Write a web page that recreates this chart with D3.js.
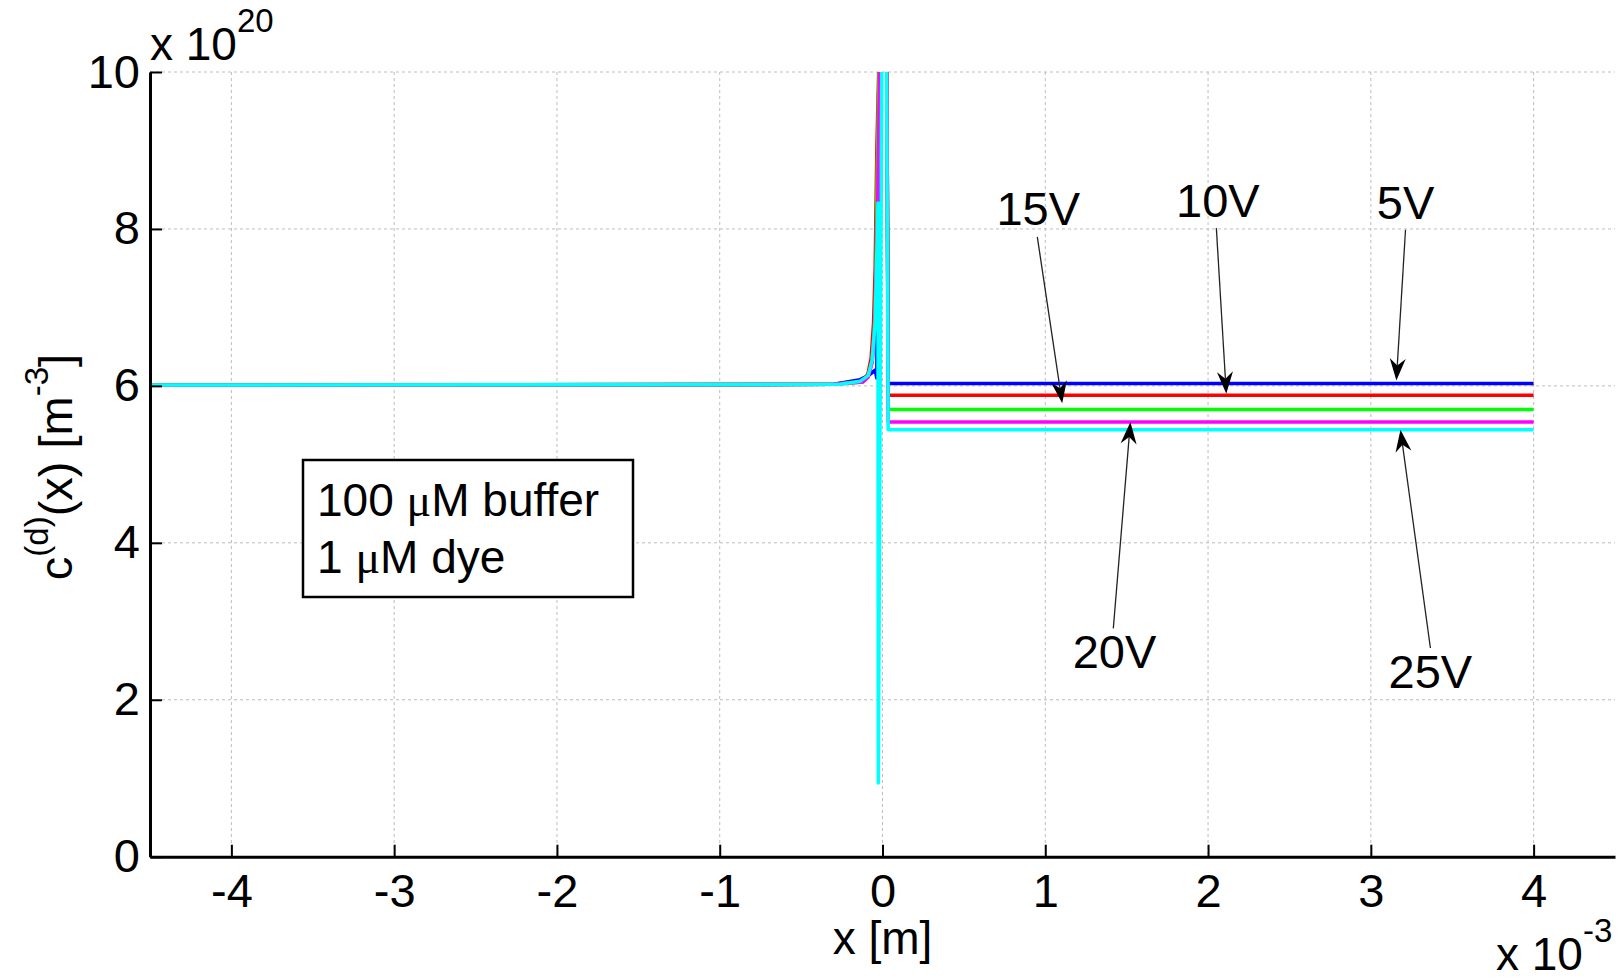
<!DOCTYPE html>
<html>
<head>
<meta charset="utf-8">
<script src="https://cdn.jsdelivr.net/npm/d3@7"></script>
<style>
  body { margin: 0; background: #fff; }
  svg text { font-family: "Liberation Sans", Arial, sans-serif; fill: #000; }
</style>
</head>
<body>
<svg width="1623" height="980"></svg>
<script>
// x in units of 1e-3 m, concentration in units of 1e20 m^-3
var xTicks = [-4, -3, -2, -1, 0, 1, 2, 3, 4];
var yTicks = [0, 2, 4, 6, 8, 10];
var seriesNames = ["5V", "10V", "15V", "20V", "25V"];

var x5V  = [-4.5, -0.3, -0.137, -0.088, -0.057, -0.045, -0.035, -0.015, 0.025, 0.035, 4.0];
var c5V  = [6.01, 6.02, 6.08, 6.13, 6.18, 6.2, 6.1, 11, 11, 6.03, 6.03];
var x10V = [-4.5, -0.3, -0.12, -0.09, -0.07, -0.055, -0.045, -0.035, -0.012, 0.025, 0.035, 4.0];
var c10V = [6.01, 6.02, 6.06, 6.15, 6.35, 6.8, 7.5, 9.0, 11, 11, 5.88, 5.88];
var x15V = [-4.5, -0.3, -0.12, -0.09, -0.065, -0.05, -0.04, -0.032, -0.012, 0.025, 0.035, 4.0];
var c15V = [6.01, 6.02, 6.05, 6.12, 6.3, 6.7, 7.4, 8.8, 11, 11, 5.70, 5.70];
var x20V = [-4.5, -0.3, -0.12, -0.088, -0.063, -0.047, -0.036, -0.03, -0.01, 0.025, 0.035, 4.0];
var c20V = [6.01, 6.02, 6.05, 6.11, 6.3, 6.75, 7.6, 8.3, 11, 11, 5.54, 5.54];
var x25V = [-4.5, -0.26, -0.137, -0.088, -0.063, -0.045, -0.033, -0.028, -0.026, -0.002, 0.023, 0.035, 4.0];
var c25V = [6.01, 6.02, 6.06, 6.13, 6.33, 6.83, 7.85, 8.33, 0.94, 11, 11, 5.44, 5.44];

var seriesX = [x5V, x10V, x15V, x20V, x25V];
var seriesC = [c5V, c10V, c15V, c20V, c25V];
var colors = ["#0000ff", "#ff0000", "#00ff00", "#ff00ff", "#00ffff"];

// arrow annotations (data coords): label position, arrow tail, arrow tip
var annText  = ["15V", "10V", "5V", "20V", "25V"];
var annTextX = [0.957, 2.06, 3.213, 1.425, 3.366];
var annTextY = [8.05, 8.15, 8.13, 2.40, 2.15];
var annTailX = [0.951, 2.051, 3.213, 1.418, 3.366];
var annTailY = [7.90, 8.01, 7.99, 2.91, 2.66];
var annTipX  = [1.104, 2.112, 3.157, 1.523, 3.182];
var annTipY  = [5.78, 5.90, 6.07, 5.54, 5.44];

var boxLines = ["100 ", "1 "];
var boxTails = [" buffer", " dye"];

var svg = d3.select("svg"),
    plotL = 150, plotR = 1615, plotT = 72, plotB = 856.7;

var x = d3.scaleLinear().domain([-4.5, 4.5]).range([plotL, plotR]);
var y = d3.scaleLinear().domain([0, 10]).range([plotB, plotT]);

svg.append("defs").append("clipPath").attr("id", "plotclip")
    .append("rect")
    .attr("x", plotL).attr("y", plotT)
    .attr("width", plotR - plotL).attr("height", plotB - plotT);

// grid
var grid = svg.append("g").attr("stroke", "#bdbdbd").attr("stroke-width", 1)
    .attr("stroke-dasharray", "3,3");
grid.selectAll(".gx").data(xTicks).enter().append("line")
    .attr("x1", function (d) { return x(d); }).attr("x2", function (d) { return x(d); })
    .attr("y1", plotT).attr("y2", plotB);
grid.selectAll(".gy").data(yTicks.filter(function (d) { return d > 0; })).enter().append("line")
    .attr("x1", plotL).attr("x2", plotR)
    .attr("y1", function (d) { return y(d); }).attr("y2", function (d) { return y(d); });

// lines
var line = d3.line()
    .x(function (d) { return x(d[0]); })
    .y(function (d) { return y(d[1]); });

var plot = svg.append("g").attr("clip-path", "url(#plotclip)");
seriesNames.forEach(function (name, i) {
    var pts = d3.zip(seriesX[i], seriesC[i]);
    plot.append("path")
        .datum(pts)
        .attr("d", line)
        .attr("fill", "none")
        .attr("stroke", colors[i])
        .attr("stroke-width", 3.5)
        .attr("stroke-linejoin", "round");
});

// axes
var xAxis = d3.axisBottom(x).tickValues(xTicks).tickSizeInner(-12).tickSizeOuter(0).tickPadding(17)
    .tickFormat(function (d) { return d; });
var yAxis = d3.axisLeft(y).tickValues(yTicks).tickSizeInner(-12).tickSizeOuter(0).tickPadding(10)
    .tickFormat(function (d) { return d; });

var gx = svg.append("g").attr("transform", "translate(0," + plotB + ")").call(xAxis);
var gy = svg.append("g").attr("transform", "translate(" + plotL + ",0)").call(yAxis);
[gx, gy].forEach(function (g) {
    g.select(".domain").attr("stroke", "#000").attr("stroke-width", 3);
    g.selectAll(".tick line").attr("stroke", "#000").attr("stroke-width", 2);
    g.selectAll(".tick text").attr("font-size", "47px")
        .style("font-family", '"Liberation Sans", Arial, sans-serif');
});

// exponents
var ex1 = svg.append("text").attr("x", 150).attr("y", 60).attr("font-size", "46px");
ex1.append("tspan").text("x 10");
ex1.append("tspan").attr("dy", -28).attr("font-size", "33px").text("20");

var ex2 = svg.append("text").attr("x", 1496).attr("y", 970).attr("font-size", "46px");
ex2.append("tspan").text("x 10");
ex2.append("tspan").attr("dy", -28).attr("font-size", "33px").text("-3");

// axis labels
svg.append("text")
    .attr("x", x(0)).attr("y", 954)
    .attr("text-anchor", "middle")
    .attr("font-size", "46px")
    .text("x [m]");

var yl = svg.append("text")
    .attr("transform", "translate(72,467) rotate(-90)")
    .attr("text-anchor", "middle")
    .attr("font-size", "47px");
yl.append("tspan").text("c");
yl.append("tspan").attr("dy", -24).attr("font-size", "33px").text("(d)");
yl.append("tspan").attr("dy", 24).text("(x) [m");
yl.append("tspan").attr("dy", -24).attr("font-size", "33px").text("-3");
yl.append("tspan").attr("dy", 24).text("]");

// annotation box
svg.append("rect")
    .attr("x", 303).attr("y", 460)
    .attr("width", 330).attr("height", 137)
    .attr("fill", "#fff").attr("stroke", "#000").attr("stroke-width", 2.5);
boxLines.forEach(function (s, i) {
    var t = svg.append("text").attr("x", 317).attr("y", 516 + i * 57).attr("font-size", "46px");
    t.append("tspan").text(s);
    t.append("tspan").style("font-family", '"Liberation Serif", "DejaVu Serif", serif').text("\u03bc");
    t.append("tspan").text("M" + boxTails[i]);
});

// arrows
var ann = svg.append("g");
annText.forEach(function (s, i) {
    var x0 = x(annTailX[i]), y0 = y(annTailY[i]),
        x1 = x(annTipX[i]), y1 = y(annTipY[i]);
    var ang = Math.atan2(y1 - y0, x1 - x0);
    var len = 22, hw = 8, notch = 15;
    var ux = Math.cos(ang), uy = Math.sin(ang);
    var bx = x1 - ux * len, by = y1 - uy * len;
    var nx = x1 - ux * notch, ny = y1 - uy * notch;
    ann.append("line")
        .attr("x1", x0).attr("y1", y0).attr("x2", nx).attr("y2", ny)
        .attr("stroke", "#222").attr("stroke-width", 1.3);
    ann.append("path")
        .attr("d", "M" + x1 + "," + y1 +
            "L" + (bx - uy * hw) + "," + (by + ux * hw) +
            "L" + nx + "," + ny +
            "L" + (bx + uy * hw) + "," + (by - ux * hw) + "Z")
        .attr("fill", "#000");
    ann.append("text")
        .attr("x", x(annTextX[i])).attr("y", y(annTextY[i]))
        .attr("text-anchor", "middle")
        .attr("font-size", "47px")
        .text(s);
});
</script>
</body>
</html>
